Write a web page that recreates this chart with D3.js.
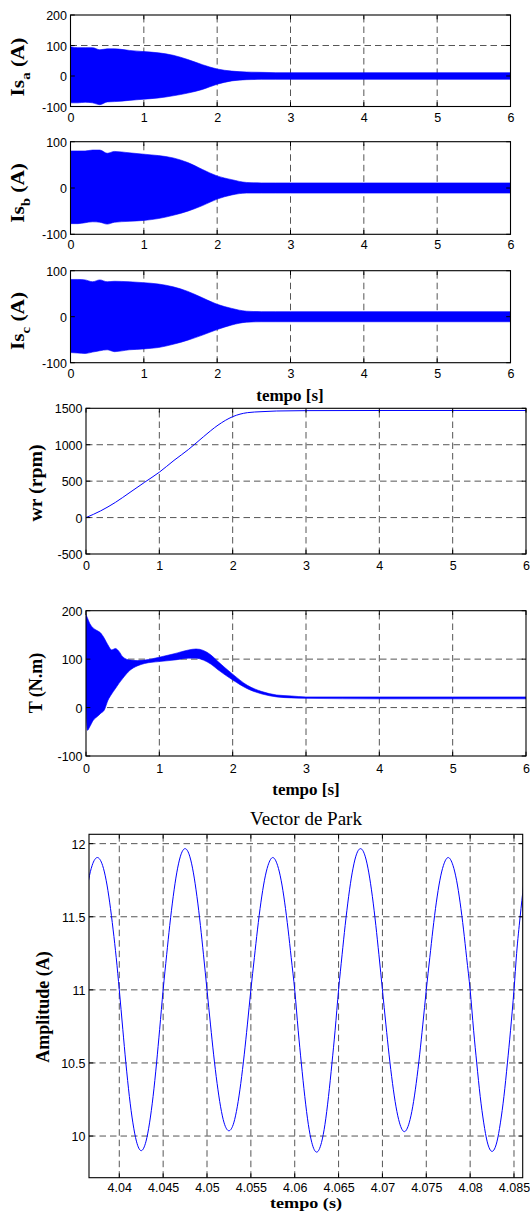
<!DOCTYPE html>
<html><head><meta charset="utf-8">
<script src="https://cdn.jsdelivr.net/npm/d3@7"></script>
<style>body{margin:0;background:#fff}svg{display:block}</style>
</head><body><svg id="c" width="530" height="1219"></svg>
<script>
// ---------- data ----------
const timeTicks = [0, 1, 2, 3, 4, 5, 6];
const isaTicks = [-100, 0, 100, 200];
const isbTicks = [-100, 0, 100];
const wrTicks = [-500, 0, 500, 1000, 1500];
const tqTicks = [-100, 0, 100, 200];
const parkXTicks = [4.04, 4.045, 4.05, 4.055, 4.06, 4.065, 4.07, 4.075, 4.08, 4.085];
const parkYTicks = [10, 10.5, 11, 11.5, 12];

// envelope of the stator currents (s, A)
const envT  = [0,0.1,0.2,0.3,0.4,0.5,0.6,0.8,1.0,1.2,1.4,1.6,1.8,2.0,2.2,2.4,2.6,2.8,3.0,4.0,5.0,6.0];
const isaUp = [96,93,93,93,86,89,89,84,80,76,68,54,37,23,16,13,12,11,11,11,11,11];
const isaLo = [-88,-88,-86,-88,-94,-85,-84,-80,-76,-72,-65,-56,-44,-27,-16,-12,-11,-11,-11,-11,-11,-11];
const isbUp = [80,80,80,82,82,75,79,76,73,70,65,55,40,26,18,12,11,11,11,11,11,11];
const isbLo = [-77,-77,-75,-73,-74,-78,-74,-72,-70,-66,-59,-50,-38,-24,-15,-11,-11,-11,-11,-11,-11,-11];
const iscUp = [81,81,80,76,80,76,77,76,74,71,65,55,41,27,18,12,11,11,11,11,11,11];
const iscLo = [-78,-79,-80,-77,-74,-72,-76,-72,-70,-67,-60,-51,-40,-28,-18,-12,-11,-11,-11,-11,-11,-11];

// rotor speed (s, rpm)
const wrT = [0,0.2,0.4,0.6,0.8,1.0,1.2,1.4,1.6,1.8,2.0,2.2,2.4,2.6,3.0,4.0,5.0,6.0];
const wrV = [0,92,208,346,485,623,785,937,1108,1269,1385,1440,1454,1463,1468,1470,1470,1470];

// torque envelope (s, N.m)
const tqT  = [0,0.02,0.05,0.1,0.15,0.2,0.25,0.3,0.35,0.4,0.45,0.5,0.6,0.7,0.8,1.0,1.2,1.4,1.5,1.6,1.7,1.8,2.0,2.2,2.4,2.6,2.8,3.0,4.0,5.0,6.0];
const tqUp = [192,185,174,164,159,154,143,129,119,122,116,105,98,97,98,104,111,119,121,118,109,95,69,46,33,26,24,22,22,22,22];
const tqLo = [0,-47,-40,-26,-19,-12,-5,15,28,39,50,60,77,86,91,95,98,102,102,98,90,78,57,39,28,22,20,19,18,18,18];

// Park vector amplitude (s, A)
const parkT = [4.03615,4.0365,4.0369,4.0375,4.0381,4.0385,4.0389,4.0393,4.03965,4.0400,
 4.0404,4.04075,4.04115,4.04155,4.04195,4.0425,4.04305,4.04345,4.04385,4.04425,4.0446,4.0450,
 4.0454,4.04575,4.04615,4.04655,4.04695,4.0475,4.04805,4.04845,4.04885,4.04925,4.0496,4.0500,
 4.0504,4.05075,4.05115,4.05155,4.05195,4.0525,4.05305,4.05345,4.05385,4.05425,4.0546,4.0550,
 4.0554,4.05575,4.05615,4.05655,4.05695,4.0575,4.05805,4.05845,4.05885,4.05925,4.0596,4.0600,
 4.0604,4.06075,4.06115,4.06155,4.06195,4.0625,4.06305,4.06345,4.06385,4.06425,4.0646,4.0650,
 4.0654,4.06575,4.06615,4.06655,4.06695,4.0675,4.06805,4.06845,4.06885,4.06925,4.0696,4.0700,
 4.0704,4.07075,4.07115,4.07155,4.07195,4.0725,4.07305,4.07345,4.07385,4.07425,4.0746,4.0750,
 4.0754,4.07575,4.07615,4.07655,4.07695,4.0775,4.07805,4.07845,4.07885,4.07925,4.0796,4.0800,
 4.0804,4.08075,4.08115,4.08155,4.08195,4.0825,4.08305,4.08345,4.08385,4.08425,4.0846,4.0850,
 4.0853,4.0857,4.0861];
const parkV = [11.60,11.75,11.85,11.905,11.85,11.75,11.60,11.41,11.22,11.00,
 10.73,10.50,10.27,10.09,9.965,9.90,9.965,10.09,10.27,10.50,10.73,11.00,
 11.24,11.44,11.64,11.80,11.91,11.966,11.91,11.80,11.64,11.44,11.24,11.00,
 10.76,10.56,10.36,10.20,10.09,10.036,10.09,10.20,10.36,10.56,10.76,11.00,
 11.22,11.41,11.60,11.75,11.85,11.905,11.85,11.75,11.60,11.41,11.22,11.00,
 10.72,10.50,10.27,10.08,9.955,9.89,9.955,10.08,10.27,10.50,10.72,11.00,
 11.24,11.44,11.64,11.80,11.91,11.966,11.91,11.80,11.64,11.44,11.24,11.00,
 10.76,10.56,10.36,10.20,10.09,10.03,10.09,10.20,10.36,10.56,10.76,11.00,
 11.22,11.41,11.60,11.75,11.85,11.905,11.85,11.75,11.60,11.41,11.22,11.00,
 10.72,10.50,10.27,10.09,9.96,9.895,9.96,10.09,10.27,10.50,10.72,11.00,
 11.25,11.50,11.72];

// ---------- drawing ----------
const svg = d3.select('#c');
svg.append('rect').attr('width',530).attr('height',1219).attr('fill','#fff');
const TICKFONT = '"Liberation Sans", Arial, Helvetica, sans-serif';
const SERIF = '"Liberation Serif", "Times New Roman", Times, serif';
const BLUE = '#0000ff';
let clipId = 0;

function panel(o) {
  const x = d3.scaleLinear().domain(o.xd).range([o.x0, o.x1]);
  const y = d3.scaleLinear().domain(o.yd).range([o.y1, o.y0]);
  const g = svg.append('g');
  const id = 'clip' + (clipId++);
  svg.append('clipPath').attr('id', id).append('rect')
    .attr('x', o.x0).attr('y', o.y0).attr('width', o.x1 - o.x0).attr('height', o.y1 - o.y0);
  // grid
  const grid = g.append('g').attr('stroke', '#222').attr('stroke-width', 0.9)
    .attr('stroke-dasharray', '6.5,4').attr('fill', 'none').attr('opacity', 0.85);
  o.xt.forEach(v => { const px = x(v); if (px > o.x0 + 1 && px < o.x1 - 1)
    grid.append('line').attr('x1', px).attr('x2', px).attr('y1', o.y1).attr('y2', o.y0); });
  o.yt.forEach(v => { const py = y(v); if (py > o.y0 + 1 && py < o.y1 - 1)
    grid.append('line').attr('y1', py).attr('y2', py).attr('x1', o.x0).attr('x2', o.x1); });
  const data = g.append('g').attr('clip-path', `url(#${id})`);
  // axes via d3
  const fx = o.xf || (d => d);
  const fy = o.yf || (d => d);
  const ax = d3.axisBottom(x).tickValues(o.xt).tickSize(0).tickPadding(0).tickFormat(fx);
  const ay = d3.axisLeft(y).tickValues(o.yt).tickSize(0).tickPadding(0).tickFormat(fy);
  const top = svg.append('g');
  const gx = top.append('g').attr('transform', `translate(0,${o.y1})`).call(ax);
  const gy = top.append('g').attr('transform', `translate(${o.x0},0)`).call(ay);
  [gx, gy].forEach(a => { a.select('.domain').remove();
    a.selectAll('text').attr('font-family', TICKFONT).attr('font-size', 12.5).attr('fill', '#000'); });
  gx.selectAll('text').attr('dy', null).attr('y', o.xlab || 15.8);
  gy.selectAll('text').attr('x', -3.5).attr('dy', '0.36em');
  // inward ticks
  const tk = top.append('g').attr('stroke', '#000').attr('stroke-width', 1);
  const L = 4.3;
  o.xt.forEach(v => { const px = x(v);
    tk.append('line').attr('x1', px).attr('x2', px).attr('y1', o.y1).attr('y2', o.y1 - L);
    tk.append('line').attr('x1', px).attr('x2', px).attr('y1', o.y0).attr('y2', o.y0 + L); });
  o.yt.forEach(v => { const py = y(v);
    tk.append('line').attr('y1', py).attr('y2', py).attr('x1', o.x0).attr('x2', o.x0 + L);
    tk.append('line').attr('y1', py).attr('y2', py).attr('x1', o.x1).attr('x2', o.x1 - L); });
  top.append('rect').attr('x', o.x0).attr('y', o.y0).attr('width', o.x1 - o.x0).attr('height', o.y1 - o.y0)
    .attr('fill', 'none').attr('stroke', '#000').attr('stroke-width', 1.1);
  return { x, y, data };
}

function band(p, T, U, Lo) {
  const pts = T.map((t, i) => ({ t, u: U[i], l: Lo[i] }));
  p.data.append('path').datum(pts)
    .attr('d', d3.area().x(d => p.x(d.t)).y0(d => p.y(d.l)).y1(d => p.y(d.u)).curve(d3.curveMonotoneX))
    .attr('fill', BLUE).attr('stroke', BLUE).attr('stroke-width', 0.6);
}

function ylabel(xc, yc, main, sub, rest, size, sx) {
  const t = svg.append('text').attr('transform', `translate(${xc},${yc}) rotate(-90) scale(${sx || 1},1)`)
    .attr('text-anchor', 'middle').attr('font-family', SERIF).attr('font-weight', 'bold')
    .attr('font-size', size).attr('fill', '#000');
  t.append('tspan').text(main);
  if (sub) {
    t.append('tspan').attr('font-size', size * 0.7).attr('dy', size * 0.3).text(sub);
    t.append('tspan').attr('dy', -size * 0.3).text(rest);
  }
  return t;
}
function label(xc, yb, txt, size, bold, len) {
  const t = svg.append('text').attr('x', xc).attr('y', yb).attr('text-anchor', 'middle')
    .attr('font-family', SERIF).attr('font-weight', bold ? 'bold' : 'normal')
    .attr('font-size', size).attr('fill', '#000').text(txt);
  if (len) t.attr('textLength', len).attr('lengthAdjust', 'spacingAndGlyphs');
}

// Is_a
const p1 = panel({ x0: 70.5, x1: 510.5, y0: 15, y1: 106.5, xd: [0, 6], yd: [-100, 200], xt: timeTicks, yt: isaTicks, xlab: 15.2 });
band(p1, envT, isaUp, isaLo);
ylabel(24, 67, 'Is', 'a', ' (A)', 18.5, 1.15);
// Is_b
const p2 = panel({ x0: 70.5, x1: 510.5, y0: 141.7, y1: 234.3, xd: [0, 6], yd: [-100, 100], xt: timeTicks, yt: isbTicks, xlab: 14.8 });
band(p2, envT, isbUp, isbLo);
ylabel(24, 193, 'Is', 'b', ' (A)', 18.5, 1.15);
// Is_c
const p3 = panel({ x0: 70.5, x1: 510.5, y0: 270.7, y1: 362.7, xd: [0, 6], yd: [-100, 100], xt: timeTicks, yt: isbTicks, xlab: 15.6 });
band(p3, envT, iscUp, iscLo);
ylabel(24, 321, 'Is', 'c', ' (A)', 18.5, 1.15);
label(290, 400.5, 'tempo [s]', 17, true);

// wr
const p4 = panel({ x0: 86, x1: 526, y0: 408.3, y1: 554, xd: [0, 6], yd: [-500, 1500], xt: timeTicks, yt: wrTicks, xlab: 16.3 });
p4.data.append('path').datum(wrT.map((t, i) => [t, wrV[i]]))
  .attr('d', d3.line().x(d => p4.x(d[0])).y(d => p4.y(d[1])).curve(d3.curveMonotoneX))
  .attr('fill', 'none').attr('stroke', BLUE).attr('stroke-width', 1);
ylabel(42, 483, 'wr (rpm)', null, null, 18, 1.1);

// torque
const p5 = panel({ x0: 86, x1: 526, y0: 610.7, y1: 756, xd: [0, 6], yd: [-100, 200], xt: timeTicks, yt: tqTicks, xlab: 16.5 });
band(p5, tqT, tqUp, tqLo);
ylabel(42, 683, 'T (N.m)', null, null, 18, 1);
label(306, 795, 'tempo [s]', 17, true);

// Park vector
label(306, 825, 'Vector de Park', 19, false);
const p6 = panel({ x0: 89, x1: 522.7, y0: 834.3, y1: 1177.7, xd: [4.036546, 4.085992], yd: [9.715, 12.064],
  xt: parkXTicks, yt: parkYTicks, xlab: 14.8, xf: d3.format('~g'), yf: d3.format('~g') });
p6.data.append('path').datum(parkT.map((t, i) => [t, parkV[i]]))
  .attr('d', d3.line().x(d => p6.x(d[0])).y(d => p6.y(d[1])).curve(d3.curveMonotoneX))
  .attr('fill', 'none').attr('stroke', BLUE).attr('stroke-width', 1);
ylabel(49, 1007, 'Amplitude (A)', null, null, 18, 1);
label(306, 1208, 'tempo (s)', 15, true, 72);
</script></body></html>
